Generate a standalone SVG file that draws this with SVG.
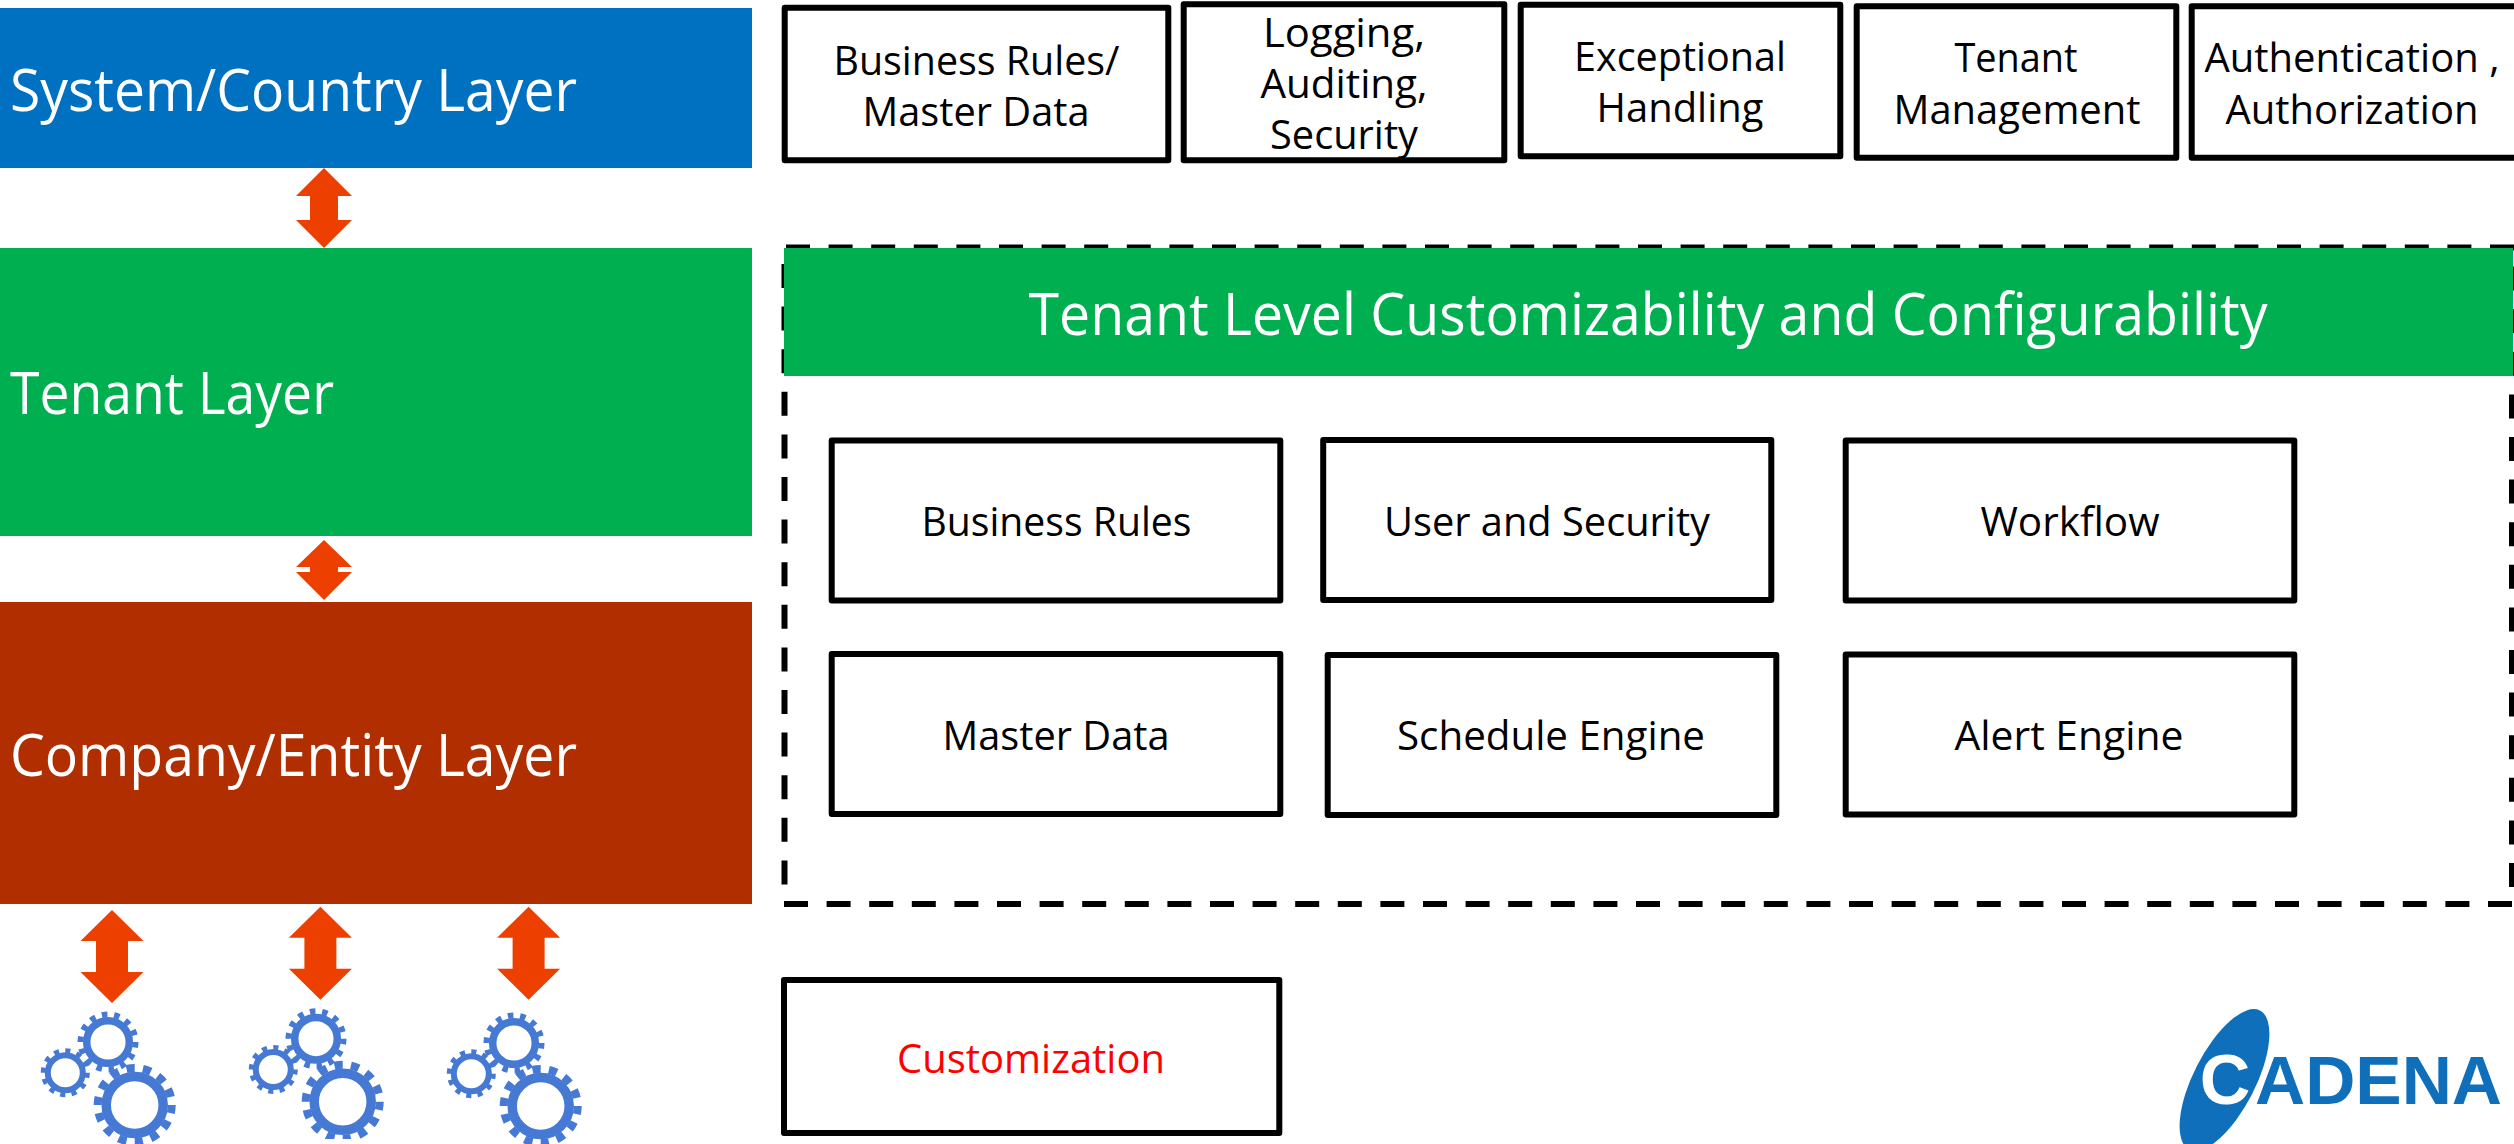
<svg xmlns="http://www.w3.org/2000/svg" width="2514" height="1144" viewBox="0 0 2514 1144">
<style>
text{font-family:"Open Sans","Noto Sans","Liberation Sans",sans-serif;text-anchor:middle}
.b{fill:#fff;stroke:#000;stroke-width:6;stroke-linejoin:round}
.t{font-size:40px;fill:#000}
.r{font-size:40px;fill:#f00}
.l{font-size:58px;fill:#fff;text-anchor:start}
.h{font-size:58px;fill:#fff}
.a{fill:#ec3f00}
.g{fill:none;stroke:#4579d4}
.d{fill:none;stroke:#000;stroke-width:6;stroke-dasharray:24 18.600}
.lg{font-family:"Liberation Sans",sans-serif;font-weight:700}
</style>
<defs>
<g id="gl"><circle r="28.500" class="g" stroke-width="9.500"/><circle r="37" class="g" stroke-width="8" pathLength="140" stroke-dasharray="5 5"/></g>
<g id="gm"><circle r="21.300" class="g" stroke-width="7.500"/><circle r="27.500" class="g" stroke-width="6" pathLength="140" stroke-dasharray="4.500 5.500"/></g>
<g id="gs"><circle r="17.500" class="g" stroke-width="6"/><circle r="22" class="g" stroke-width="5" pathLength="120" stroke-dasharray="4.500 5.500"/></g>
<g id="gears"><use href="#gs" x="65.300" y="1072.700"/><use href="#gm" x="108" y="1042"/><use href="#gl" x="134.700" y="1105"/></g>
<clipPath id="cb"><rect x="200" y="1000" width="184" height="139"/></clipPath>
</defs>
<g id="layer-system"><rect y="8" width="752" height="160" fill="#0070c0"/><text class="l" x="10" y="111" textLength="567" lengthAdjust="spacingAndGlyphs">System/Country Layer</text></g>
<g id="layer-tenant"><rect y="248" width="752" height="288" fill="#00b050"/><text class="l" x="10" y="414" textLength="324" lengthAdjust="spacingAndGlyphs">Tenant Layer</text></g>
<g id="layer-company"><rect y="602" width="752" height="302" fill="#b02e00"/><text class="l" x="10" y="776" textLength="567" lengthAdjust="spacingAndGlyphs">Company/Entity Layer</text></g>
<g id="connectors">
<path class="a" d="M324 168l28 28h-14v24h14l-28 28l-28-28h14v-24h-14z"/>
<path class="a" d="M324 540l28 27h-14v5h14l-28 28l-28-28h14v-5h-14z"/>
<path class="a" d="M112 910l31.500 31h-15.500v31h15.500l-31.500 31l-31.500-31h15.500v-31h-15.500z"/>
<path class="a" d="M320.400 906.700l31.500 31h-15.500v31h15.500l-31.500 31l-31.500-31h15.500v-31h-15.500z"/>
<path class="a" d="M528.600 906.700l31.500 31h-15.500v31h15.500l-31.500 31l-31.500-31h15.500v-31h-15.500z"/>
</g>
<g id="gears-1"><use href="#gears"/></g>
<g id="gears-2" clip-path="url(#cb)"><use href="#gears" x="208" y="-3.300"/></g>
<g id="gears-3"><use href="#gears" x="406" y="1"/></g>
<g id="box-rules"><rect class="b" x="784.700" y="7.700" width="383.600" height="152.600"/><text class="t" x="976.500" y="75" textLength="286" lengthAdjust="spacingAndGlyphs">Business Rules/</text><text class="t" x="976" y="126" textLength="227" lengthAdjust="spacingAndGlyphs">Master Data</text></g>
<g id="box-logging"><rect class="b" x="1183.700" y="4.200" width="320.600" height="156"/><text class="t" x="1344" y="47" textLength="162" lengthAdjust="spacingAndGlyphs">Logging,</text><text class="t" x="1344" y="98" textLength="167" lengthAdjust="spacingAndGlyphs">Auditing,</text><text class="t" x="1344" y="149" textLength="148" lengthAdjust="spacingAndGlyphs">Security</text></g>
<g id="box-exception"><rect class="b" x="1520.700" y="4.700" width="319.600" height="151.600"/><text class="t" x="1680" y="71" textLength="212" lengthAdjust="spacingAndGlyphs">Exceptional</text><text class="t" x="1680" y="122" textLength="167" lengthAdjust="spacingAndGlyphs">Handling</text></g>
<g id="box-tenant"><rect class="b" x="1856.700" y="6.200" width="319.600" height="151.600"/><text class="t" x="2016" y="72" textLength="123" lengthAdjust="spacingAndGlyphs">Tenant</text><text class="t" x="2017" y="124" textLength="247" lengthAdjust="spacingAndGlyphs">Management</text></g>
<g id="box-auth"><rect class="b" x="2191.700" y="6.200" width="330" height="151.600"/><text class="t" x="2352" y="72" textLength="295" lengthAdjust="spacingAndGlyphs">Authentication ,</text><text class="t" x="2352" y="124" textLength="253" lengthAdjust="spacingAndGlyphs">Authorization</text></g>
<g id="tenant-panel"><path class="d" d="M786 247.500H2514M2512 266.600V900M784 904H2514M784.500 264V900"/><rect x="784" y="248" width="1729" height="128" fill="#00b050"/><text class="h" x="1648" y="335" textLength="1239" lengthAdjust="spacingAndGlyphs">Tenant Level Customizability and Configurability</text></g>
<g id="box-business-rules"><rect class="b" x="831.700" y="440.500" width="448.600" height="160"/><text class="t" x="1056.500" y="536" textLength="270" lengthAdjust="spacingAndGlyphs">Business Rules</text></g>
<g id="box-user-security"><rect class="b" x="1323.200" y="440" width="448.100" height="160"/><text class="t" x="1547" y="536" textLength="326" lengthAdjust="spacingAndGlyphs">User and Security</text></g>
<g id="box-workflow"><rect class="b" x="1845.700" y="440.500" width="448.600" height="160"/><text class="t" x="2070" y="536" textLength="179" lengthAdjust="spacingAndGlyphs">Workflow</text></g>
<g id="box-master-data"><rect class="b" x="831.700" y="654" width="448.600" height="160"/><text class="t" x="1056" y="750" textLength="227" lengthAdjust="spacingAndGlyphs">Master Data</text></g>
<g id="box-schedule"><rect class="b" x="1327.700" y="655" width="448.600" height="160"/><text class="t" x="1551" y="750" textLength="308" lengthAdjust="spacingAndGlyphs">Schedule Engine</text></g>
<g id="box-alert"><rect class="b" x="1845.700" y="654.500" width="448.600" height="160"/><text class="t" x="2069" y="750" textLength="229" lengthAdjust="spacingAndGlyphs">Alert Engine</text></g>
<g id="box-customization"><rect class="b" x="784" y="980" width="495.300" height="153"/><text class="r" x="1031" y="1072.500" textLength="268" lengthAdjust="spacingAndGlyphs">Customization</text></g>
<g id="logo"><ellipse cx="2224.500" cy="1080" rx="31" ry="78" transform="rotate(27 2224.500 1080)" fill="#0f6fba"/><text class="lg" x="2225" y="1104" font-size="70" fill="#fff">C</text><text class="lg" x="2255" y="1104" font-size="68" fill="#0f6fba" style="text-anchor:start" textLength="247" lengthAdjust="spacingAndGlyphs">ADENA</text></g>
</svg>
